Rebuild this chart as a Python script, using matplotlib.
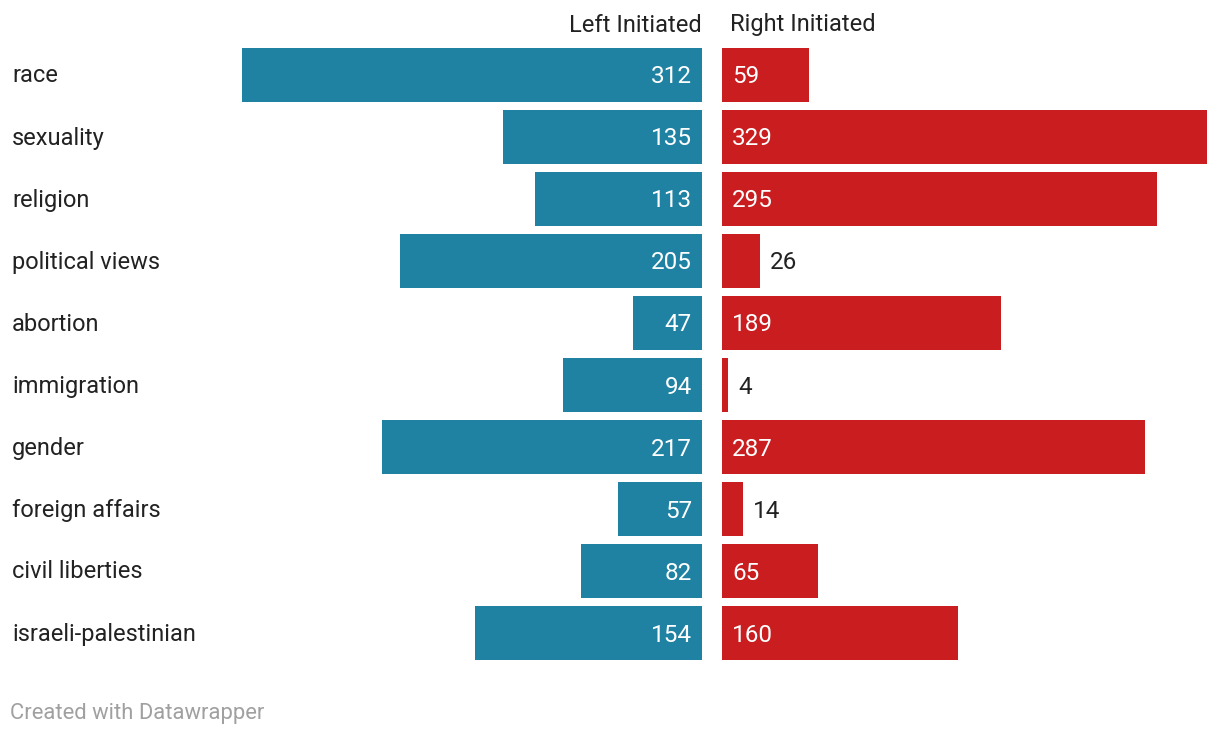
import matplotlib.pyplot as plt

plt.rcParams['font.family'] = ['Roboto', 'DejaVu Sans']

# DATA
topics = ["race", "sexuality", "religion", "political views", "abortion",
          "immigration", "gender", "foreign affairs", "civil liberties",
          "israeli-palestinian"]
left_vals = [312, 135, 113, 205, 47, 94, 217, 57, 82, 154]
right_vals = [59, 329, 295, 26, 189, 4, 287, 14, 65, 160]

BLUE = "#1f82a2"
RED = "#c91d1f"
W, H = 1220, 736
PX_PER_UNIT = 460 / 312

fig = plt.figure(figsize=(W / 100, H / 100), dpi=100)

top_px, bot_px = 48, 660
y0 = 1 - bot_px / H
h = (bot_px - top_px) / H

ax_l = fig.add_axes([242 / W, y0, 460 / W, h])
ax_r = fig.add_axes([722 / W, y0, 486 / W, h])

ys = range(len(topics))
ax_l.barh(ys, left_vals, height=0.87, color=BLUE)
ax_r.barh(ys, right_vals, height=0.87, color=RED)

ax_l.set_xlim(312, 0)
ax_r.set_xlim(0, 486 / PX_PER_UNIT)
for ax in (ax_l, ax_r):
    ax.set_ylim(len(topics) - 0.565, -0.435)
    ax.axis('off')

fs = 17
nfs = 17.5
dy = -2  # nudge text down a bit
for i, v in enumerate(left_vals):
    ax_l.annotate(str(v), (0, i), xytext=(-10, dy), textcoords='offset pixels',
                  ha='right', va='center', color='white', fontsize=nfs)
for i, v in enumerate(right_vals):
    if v * PX_PER_UNIT > 40:
        ax_r.annotate(str(v), (0, i), xytext=(10, dy), textcoords='offset pixels',
                      ha='left', va='center', color='white', fontsize=nfs)
    else:
        ax_r.annotate(str(v), (v, i), xytext=(10, dy), textcoords='offset pixels',
                      ha='left', va='center', color='#222222', fontsize=nfs)

# category labels
for i, t in enumerate(topics):
    yc = 1 - (76 + 62 * i) / H
    fig.text(12 / W, yc, t, ha='left', va='center', fontsize=fs, color='#222222')

# headers
fig.text(702 / W, 1 - 25 / H, "Left Initiated", ha='right', va='center',
         fontsize=fs, color='#222222')
fig.text(730 / W, 1 - 25 / H, "Right Initiated", ha='left', va='center',
         fontsize=fs, color='#222222')

fig.text(10 / W, 1 - 714 / H, "Created with Datawrapper", ha='left', va='center',
         fontsize=15.8, color='#a0a0a0')

fig.savefig("out.png", dpi=100)
